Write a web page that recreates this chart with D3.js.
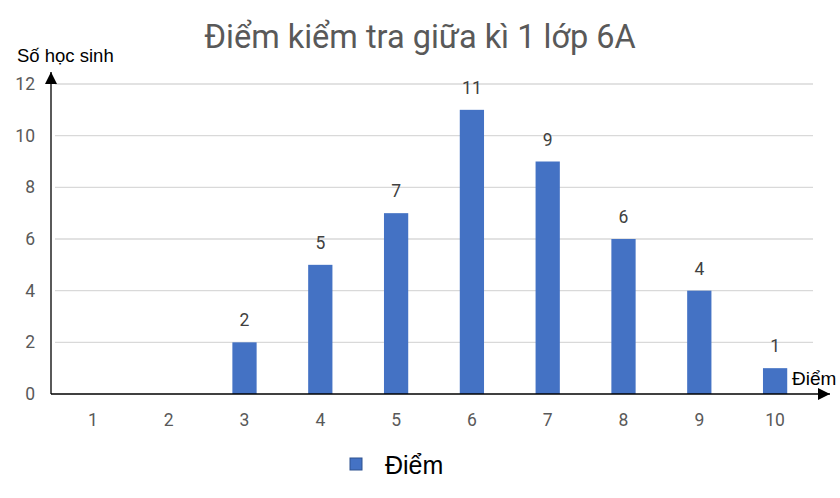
<!DOCTYPE html>
<html>
<head>
<meta charset="utf-8">
<script src="https://d3js.org/d3.v7.min.js"></script>
<style>
  body { margin: 0; background: #fff; }
  text { font-family: Roboto, "Noto Sans", sans-serif; }
</style>
</head>
<body>
<div id="chart"></div>
<script>
// data
const scores = ["1", "2", "3", "4", "5", "6", "7", "8", "9", "10"];
const students = [0, 0, 2, 5, 7, 11, 9, 6, 4, 1];
const yTicks = [0, 2, 4, 6, 8, 10, 12];

const W = 840, H = 498;
const margin = {top: 84, right: 27, bottom: 104, left: 55};
const width = W - margin.left - margin.right,
  height = H - margin.top - margin.bottom;

const svg = d3.select("#chart").append("svg")
  .attr("width", W).attr("height", H);

const g = svg.append("g")
  .attr("transform", `translate(${margin.left},${margin.top})`);

const x = d3.scaleBand().domain(scores).range([0, width])
  .paddingInner(0.68).paddingOuter(0.34);
const y = d3.scaleLinear().domain([0, 12]).range([height, 0]);

// gridlines
g.selectAll(".grid").data(yTicks.filter(d => d > 0)).join("line")
  .attr("x1", 0).attr("x2", width)
  .attr("y1", d => y(d)).attr("y2", d => y(d))
  .attr("stroke", "#d9d9d9").attr("stroke-width", 1.3);

// y tick labels
const yAxis = g.append("g")
  .call(d3.axisLeft(y).tickValues(yTicks).tickSize(0).tickPadding(20));
yAxis.select(".domain").remove();
yAxis.selectAll("text").style("font-size", "17.5px").attr("fill", "#595959")
  .style("font-family", "Roboto, sans-serif");

// x tick labels
const xAxis = g.append("g")
  .attr("transform", `translate(0,${height})`)
  .call(d3.axisBottom(x).tickSize(0).tickPadding(20));
xAxis.select(".domain").remove();
xAxis.selectAll("text").style("font-size", "17.5px").attr("fill", "#595959")
  .style("font-family", "Roboto, sans-serif");

// bars
g.selectAll(".bar").data(scores).join("rect")
  .attr("x", d => x(d))
  .attr("width", x.bandwidth())
  .attr("y", (d, i) => y(students[i]))
  .attr("height", (d, i) => height - y(students[i]))
  .attr("fill", "#4472c4");

// data labels
g.selectAll(".lbl").data(scores).join("text")
  .filter((d, i) => students[i] > 0)
  .attr("x", d => x(d) + x.bandwidth() / 2)
  .attr("y", d => y(students[scores.indexOf(d)]) - 16)
  .attr("text-anchor", "middle")
  .style("font-size", "17.5px")
  .attr("fill", "#404040")
  .text(d => students[scores.indexOf(d)]);

// arrows
svg.append("defs").append("marker")
  .attr("id", "arr").attr("viewBox", "0 0 10 10")
  .attr("refX", 10).attr("refY", 5)
  .attr("markerWidth", 12).attr("markerHeight", 12)
  .attr("markerUnits", "userSpaceOnUse")
  .attr("orient", "auto")
  .append("path").attr("d", "M0,0 L10,5 L0,10 Z").attr("fill", "#000");

g.append("line")
  .attr("x1", -4).attr("x2", -4)
  .attr("y1", height).attr("y2", y(12) - 12)
  .attr("stroke", "#000").attr("stroke-width", 1.3)
  .attr("marker-end", "url(#arr)");

g.append("line")
  .attr("x1", -4).attr("x2", width + 17)
  .attr("y1", height).attr("y2", height)
  .attr("stroke", "#000").attr("stroke-width", 1.3)
  .attr("marker-end", "url(#arr)");

// axis names
svg.append("text").attr("x", 17).attr("y", 62)
  .style("font-family", "'Liberation Sans', Arial, sans-serif")
  .style("font-size", "18.5px").attr("fill", "#000").text("Số học sinh");
svg.append("text").attr("x", 792).attr("y", 385)
  .style("font-family", "'Liberation Sans', Arial, sans-serif")
  .style("font-size", "19px").attr("fill", "#000").text("Điểm");

// title
svg.append("text").attr("x", 420).attr("y", 48)
  .attr("text-anchor", "middle")
  .style("font-size", "32.5px").attr("fill", "#595959")
  .text("Điểm kiểm tra giữa kì 1 lớp 6A");

// legend
svg.append("rect").attr("x", 350).attr("y", 458).attr("width", 12).attr("height", 12)
  .attr("fill", "#4472c4").attr("stroke", "#2f528f").attr("stroke-width", 1);
svg.append("text").attr("x", 385).attr("y", 474)
  .style("font-family", "'Liberation Sans', Arial, sans-serif")
  .style("font-size", "25px").attr("fill", "#000").text("Điểm");
</script>
</body>
</html>
